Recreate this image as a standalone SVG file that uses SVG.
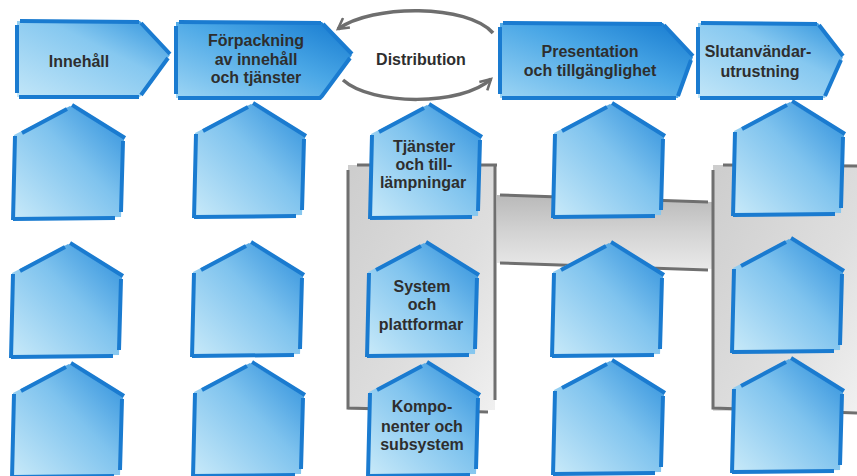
<svg xmlns="http://www.w3.org/2000/svg" xmlns:xlink="http://www.w3.org/1999/xlink" width="857" height="476" viewBox="0 0 857 476">
<style>
.lbl{font-family:"Liberation Sans",Arial,sans-serif;font-weight:bold;font-size:16px;fill:#2e2e2e;text-anchor:middle}
.edge{fill:none;stroke:#1a7bd0;stroke-width:4}
.frame{fill:none;stroke:#6f6f6f;stroke-width:3}
.arc{fill:none;stroke:#6e6e6e;stroke-width:3.5}
</style>
<defs>
<linearGradient id="gPent" x1="1" y1="0" x2="0" y2="1">
<stop offset="0" stop-color="#2a8ddb"/>
<stop offset="0.45" stop-color="#7fc3ee"/>
<stop offset="1" stop-color="#c9eaf9"/>
</linearGradient>
<linearGradient id="gArrLight" x1="0" y1="1" x2="1" y2="0">
<stop offset="0" stop-color="#c2e6f8"/>
<stop offset="0.6" stop-color="#86c8f0"/>
<stop offset="1" stop-color="#2f93dd"/>
</linearGradient>
<linearGradient id="gArrDark" x1="0" y1="1" x2="1" y2="0">
<stop offset="0" stop-color="#9dd5f4"/>
<stop offset="0.55" stop-color="#4aa7e6"/>
<stop offset="1" stop-color="#1479cf"/>
</linearGradient>
<linearGradient id="gBox" x1="0" y1="0" x2="1" y2="1">
<stop offset="0" stop-color="#cdcdcd"/>
<stop offset="0.6" stop-color="#dedede"/>
<stop offset="1" stop-color="#f0f0f0"/>
</linearGradient>
<linearGradient id="gBand" x1="0" y1="0" x2="0" y2="1">
<stop offset="0" stop-color="#b9b9b9"/>
<stop offset="0.5" stop-color="#d3d3d3"/>
<stop offset="1" stop-color="#e9e9e9"/>
</linearGradient>
<g id="pent">
<path d="M1,30 L57,1 L111,33 L108,112 L0,114 Z" fill="url(#gPent)"/>
<path class="edge" d="M2,31 L0,115 M9,28 L54,4 M59,0 L112,33 M110,36 L108,107 M102,113 L0,114"/>
</g>
<marker id="chev" viewBox="0 0 12 12" refX="10" refY="6" markerWidth="14" markerHeight="14" markerUnits="userSpaceOnUse" orient="auto">
<path d="M1,1 L10,6 L1,11" fill="none" stroke="#6e6e6e" stroke-width="2.2"/>
</marker>
</defs>

<g id="grey-structure">
<rect x="348" y="165" width="147" height="245" fill="url(#gBox)"/>
<path d="M497,195 L713,202 L713,269 L497,263 Z" fill="url(#gBand)"/>
<rect x="713" y="165" width="144" height="246" fill="url(#gBox)"/>
<path class="frame" d="M357,165 L497,165 M495,165 L495,400 M348,170 L348,408 L488,412"/>
<path class="frame" d="M500,195 L708,202 M500,263 L708,270"/>
<path class="frame" d="M723,165 L857,166 M713,170 L713,408 L857,413"/>
</g>

<g id="connectors">
<path class="arc" d="M493,33 C468,4 372,4 338,29" marker-end="url(#chev)"/>
<path class="arc" d="M343,80 C372,106 462,106 491,79" marker-end="url(#chev)"/>
</g>

<g id="innehall">
<path d="M17,21 L140,21 L170,55 L140,97 L17,97 Z" fill="url(#gArrLight)"/>
<path class="edge" d="M20,21 L139,22 M141,23 L170,54 M168,58 L141,95 M139,97 L19,97 M17,25 L17,93"/>
<text class="lbl" x="79" y="67">Innehåll</text>
</g>
<g id="forpackning">
<path d="M176,22 L322,22 L352,55 L322,98 L176,98 Z" fill="url(#gArrDark)"/>
<path class="edge" d="M179,22 L321,23 M323,24 L352,54 M350,58 L322,96 L320,98 L178,98 M176,26 L176,94"/>
<text class="lbl" x="256" y="46">Förpackning</text>
<text class="lbl" x="256" y="65">av innehåll</text>
<text class="lbl" x="256" y="83">och tjänster</text>
</g>
<g id="distribution">
<text class="lbl" x="421" y="65">Distribution</text>
</g>
<g id="presentation">
<path d="M500,23 L663,23 L693,57 L678,98 L500,98 Z" fill="url(#gArrDark)"/>
<path class="edge" d="M503,23 L662,24 M664,25 L693,56 M691,60 L678,96 M676,98 L502,98 M500,27 L500,94"/>
<text class="lbl" x="590" y="57">Presentation</text>
<text class="lbl" x="590" y="76">och tillgänglighet</text>
</g>
<g id="slutanvandar">
<path d="M698,23 L818,23 L843,57 L825,98 L698,98 Z" fill="url(#gArrLight)"/>
<path class="edge" d="M701,23 L817,24 M819,25 L843,56 M841,60 L825,96 M823,98 L700,98 M698,27 L698,94"/>
<text class="lbl" x="758" y="57">Slutanvändar-</text>
<text class="lbl" x="760" y="77">utrustning</text>
</g>

<g id="c1r1"><use xlink:href="#pent" transform="translate(13,105)"/></g>
<g id="c2r1"><use xlink:href="#pent" transform="translate(194,103)"/></g>
<g id="c3r1"><use xlink:href="#pent" transform="translate(370,104)"/>
<text class="lbl" x="424" y="152">Tjänster</text>
<text class="lbl" x="424" y="170">och till-</text>
<text class="lbl" x="423" y="188">lämpningar</text>
</g>
<g id="c4r1"><use xlink:href="#pent" transform="translate(553,103)"/></g>
<g id="c5r1"><use xlink:href="#pent" transform="translate(733,101)"/></g>

<g id="c1r2"><use xlink:href="#pent" transform="translate(11,243)"/></g>
<g id="c2r2"><use xlink:href="#pent" transform="translate(192,242)"/></g>
<g id="c3r2"><use xlink:href="#pent" transform="translate(367,242)"/>
<text class="lbl" x="422" y="292">System</text>
<text class="lbl" x="422" y="310">och</text>
<text class="lbl" x="421" y="330">plattformar</text>
</g>
<g id="c4r2"><use xlink:href="#pent" transform="translate(552,242)"/></g>
<g id="c5r2"><use xlink:href="#pent" transform="translate(732,238)"/></g>

<g id="c1r3"><use xlink:href="#pent" transform="translate(12,363)"/></g>
<g id="c2r3"><use xlink:href="#pent" transform="translate(193,362)"/></g>
<g id="c3r3"><use xlink:href="#pent" transform="translate(368,362)"/>
<text class="lbl" x="422" y="412">Kompo-</text>
<text class="lbl" x="422" y="432">nenter och</text>
<text class="lbl" x="422" y="450">subsystem</text>
</g>
<g id="c4r3"><use xlink:href="#pent" transform="translate(553,360)"/></g>
<g id="c5r3"><use xlink:href="#pent" transform="translate(732,358)"/></g>
</svg>
